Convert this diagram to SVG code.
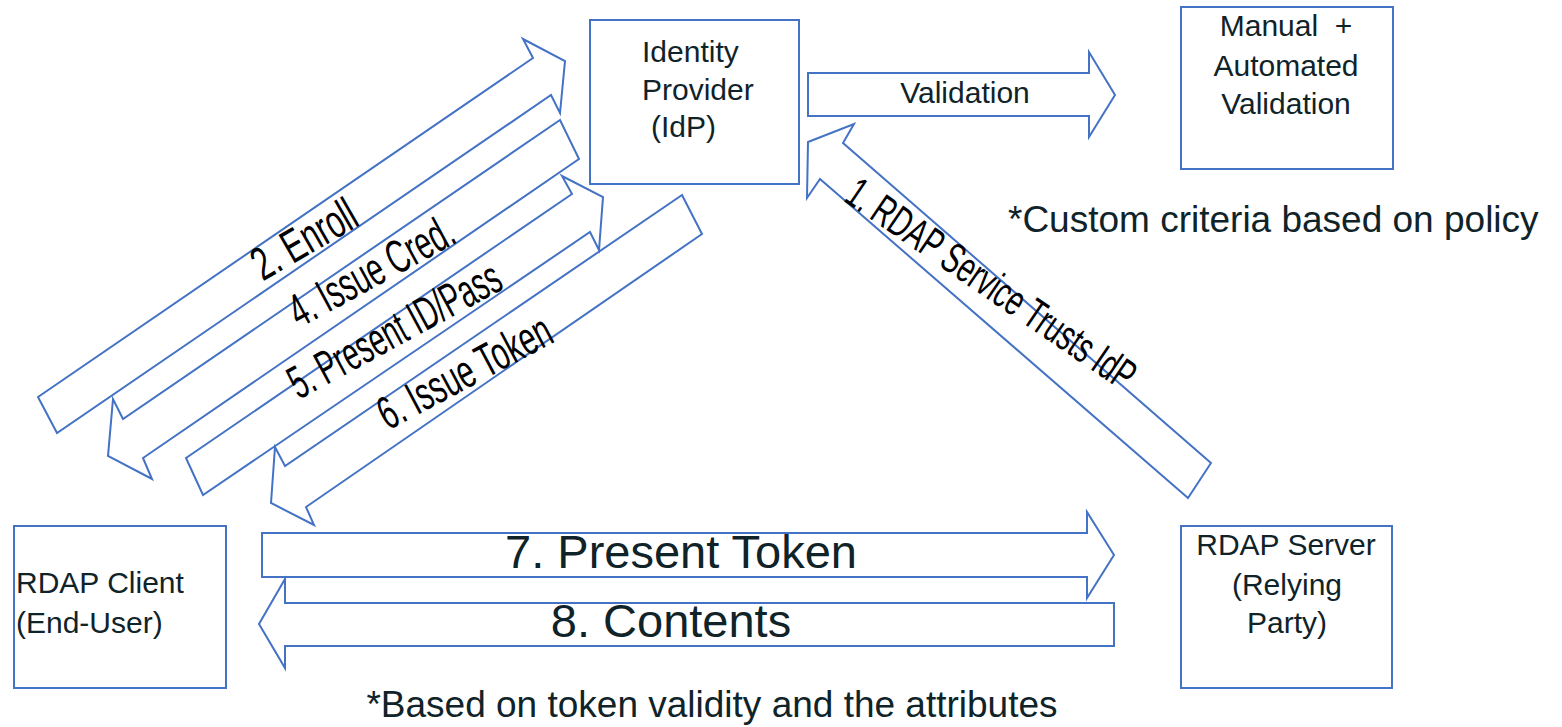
<svg xmlns="http://www.w3.org/2000/svg" width="1562" height="727" viewBox="0 0 1562 727">
<style>
.box{fill:none;stroke:#4472C4;stroke-width:2}
.arr{fill:none;stroke:#4472C4;stroke-width:2;stroke-linejoin:miter}
.t{font-family:"Liberation Sans",Arial,sans-serif;fill:#0f2329}
.bt{font-size:30px}
.rt{font-family:"Liberation Sans",Arial,sans-serif;fill:#000;font-size:47px;text-anchor:middle}
</style>
<rect width="1562" height="727" fill="#fff"/>
<g id="connectors">
  <g id="arrow-validation">
    <polygon class="arr" points="808,73 1089,73 1089,52 1115,95 1089,137 1089,116 808,116"/>
    <text class="t bt" x="965" y="103" text-anchor="middle">Validation</text>
  </g>
  <g id="arrow-1-trust">
    <polygon class="arr" points="1211,463 843,143 854,124 808,142 807,198 820,179 1188,498"/>
    <text class="rt" style="font-size:43px" transform="translate(983,296) rotate(34.3) scale(0.645,1)">1. RDAP Service Trusts IdP</text>
  </g>
  <g id="arrow-2-enroll">
    <polygon class="arr" points="38,397 533,58 523,39 565,61 560,113 551,95 57,433"/>
    <text class="rt" transform="translate(312,253) rotate(-30) scale(0.66,1)">2. Enroll</text>
  </g>
  <g id="arrow-4-issue-cred">
    <polygon class="arr" points="560,120 123,419 113,399 108,456 152,479 143,458 579,159"/>
    <text class="rt" transform="translate(379,285) rotate(-28.5) scale(0.62,1)">4. Issue Cred.</text>
  </g>
  <g id="arrow-5-present-id">
    <polygon class="arr" points="186,458 572,194 562,176 603,197 599,250 590,232 203,495"/>
    <text class="rt" transform="translate(402,344) rotate(-28.5) scale(0.6,1)">5. Present ID/Pass</text>
  </g>
  <g id="arrow-6-issue-token">
    <polygon class="arr" points="682,195 285,466 275,447 271,503 314,525 306,507 702,234"/>
    <text class="rt" transform="translate(472,386) rotate(-28) scale(0.63,1)">6. Issue Token</text>
  </g>
  <g id="arrow-7-present-token">
    <polygon class="arr" points="262,533 1087,533 1087,512 1114,555 1087,598 1087,577 262,577"/>
    <text class="t" x="681" y="568" font-size="47" text-anchor="middle">7. Present Token</text>
  </g>
  <g id="arrow-8-contents">
    <polygon class="arr" points="1114,603 285,603 285,579 259,624 285,668 285,646 1114,646"/>
    <text class="t" x="671" y="637" font-size="47" text-anchor="middle">8. Contents</text>
  </g>
</g>
<g id="idp">
  <rect class="box" x="590" y="20" width="209" height="164"/>
  <text class="t bt" x="642" y="62">Identity</text>
  <text class="t bt" x="642" y="100">Provider</text>
  <text class="t bt" x="651" y="137">(IdP)</text>
</g>
<g id="validation-box">
  <rect class="box" x="1181" y="7" width="212" height="162"/>
  <text class="t bt" x="1286" y="36" text-anchor="middle" xml:space="preserve">Manual  +</text>
  <text class="t bt" x="1286" y="76" text-anchor="middle">Automated</text>
  <text class="t bt" x="1286" y="114" text-anchor="middle">Validation</text>
</g>
<g id="rdap-client">
  <rect class="box" x="14" y="526" width="212" height="162"/>
  <text class="t bt" x="16" y="593">RDAP Client</text>
  <text class="t bt" x="16" y="633">(End-User)</text>
</g>
<g id="rdap-server">
  <rect class="box" x="1181" y="526" width="211" height="162"/>
  <text class="t bt" x="1286" y="555" text-anchor="middle">RDAP Server</text>
  <text class="t bt" x="1287" y="595" text-anchor="middle">(Relying</text>
  <text class="t bt" x="1287" y="633" text-anchor="middle">Party)</text>
</g>
<g id="notes">
  <text class="t" x="1008" y="232" font-size="37">*Custom criteria based on policy</text>
  <text class="t" x="712" y="717" font-size="37" text-anchor="middle">*Based on token validity and the attributes</text>
</g>
</svg>
